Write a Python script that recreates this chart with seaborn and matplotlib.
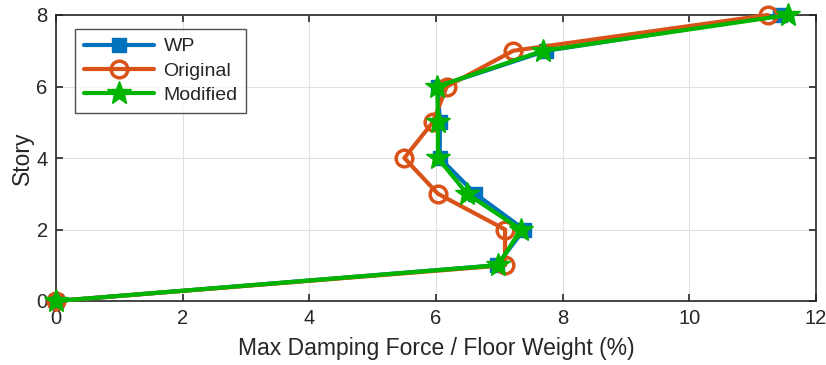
import matplotlib
matplotlib.use("Agg")
import matplotlib.pyplot as plt
import seaborn as sns
import pandas as pd

stories = [0, 1, 2, 3, 4, 5, 6, 7, 8]
wp = [0, 6.96, 7.39, 6.62, 6.06, 6.06, 6.03, 7.74, 11.43]
original = [0, 7.09, 7.09, 6.03, 5.50, 5.95, 6.17, 7.22, 11.24]
modified = [0, 6.98, 7.34, 6.49, 6.03, 6.03, 6.02, 7.69, 11.56]

names = ["WP", "Original", "Modified"]
colors = ["#0072BD", "#D95319", "#00B400"]
markers = ["s", "o", "*"]
msizes = [10, 12, 18]

sns.set_style("whitegrid")
plt.rcParams['font.family'] = ['Liberation Sans', 'DejaVu Sans']

fig = plt.figure(figsize=(8.26, 3.65), dpi=100)
ax = fig.add_axes([56/826, 1 - 301/365, 760/826, 286/365])

for vals, n, c, m, ms in zip([wp, original, modified], names, colors, markers, msizes):
    df = pd.DataFrame({"force": vals, "story": stories})
    sns.lineplot(data=df, x="force", y="story", sort=False, estimator=None,
                 color=c, marker=m, markersize=ms, linewidth=3,
                 markerfacecolor="none" if m == "o" else c,
                 markeredgecolor=c, markeredgewidth=2.5 if m == "o" else 1,
                 label=n, ax=ax, clip_on=False, zorder=3)

ax.set_xlim(0, 12)
ax.set_ylim(0, 8)
ax.set_xticks(range(0, 13, 2))
ax.set_yticks(range(0, 9, 2))
ax.set_xlabel("Max Damping Force / Floor Weight (%)", fontsize=16.5, color="#262626", labelpad=6)
ax.set_ylabel("Story", fontsize=16.5, color="#262626", labelpad=2)
ax.tick_params(axis="both", direction="in", length=5, width=1.2, labelsize=14.5,
               colors="#262626", top=True, right=True, bottom=True, left=True, pad=6)
ax.grid(True, color="#e0e0e0", linewidth=0.8)
for s in ax.spines.values():
    s.set_visible(True)
    s.set_color("#262626")
    s.set_linewidth(1.2)

leg = ax.legend(loc="upper left", bbox_to_anchor=(0.025, 0.951), borderaxespad=0,
                fontsize=14, frameon=True, fancybox=False, edgecolor="#262626",
                handlelength=3.6, borderpad=0.45, labelspacing=0.35, handletextpad=0.5)
leg.get_frame().set_linewidth(1)

fig.savefig("out.png", dpi=100)
